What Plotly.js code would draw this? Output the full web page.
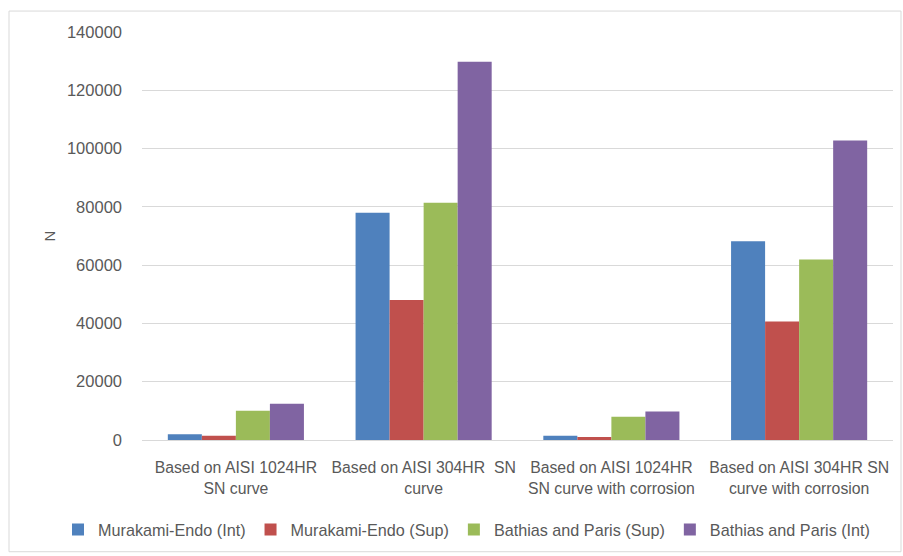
<!DOCTYPE html>
<html>
<head>
<meta charset="utf-8">
<script src="https://cdn.plot.ly/plotly-3.0.1.min.js"></script>
<style>html,body{margin:0;padding:0;background:#fff;}#chart{width:903px;height:556px;}</style>
</head>
<body>
<div id="chart"></div>
<script>
const categories = [
  "Based on AISI 1024HR<br>SN curve",
  "Based on AISI 304HR  SN<br>curve",
  "Based on AISI 1024HR<br>SN curve with corrosion",
  "Based on AISI 304HR SN<br>curve with corrosion"
];
const seriesNames = ["Murakami-Endo (Int)", "Murakami-Endo (Sup)", "Bathias and Paris (Sup)", "Bathias and Paris (Int)"];
const murakamiInt = [2000, 78000, 1500, 68200];
const murakamiSup = [1500, 48000, 1000, 40700];
const bathiasSup = [10000, 81400, 8000, 61900];
const bathiasInt = [12400, 129800, 9800, 102800];
const colors = ["#4F81BD", "#C0504D", "#9BBB59", "#8064A2"];
const yTicks = [0, 20000, 40000, 60000, 80000, 100000, 120000, 140000];

const allValues = [murakamiInt, murakamiSup, bathiasSup, bathiasInt];
const traces = allValues.map((vals, i) => ({
  type: "bar",
  name: seriesNames[i],
  x: categories,
  y: vals,
  marker: {color: colors[i]}
}));

const font = "'Liberation Sans', Arial, sans-serif";
const txt = "#595959";
const layout = {
  width: 903, height: 556,
  margin: {l: 142, r: 10, t: 32, b: 115},
  paper_bgcolor: "#fff", plot_bgcolor: "#fff",
  barmode: "group", bargap: 0.275, bargroupgap: 0,
  font: {family: font, size: 16, color: txt},
  xaxis: {
    showgrid: false, showline: true, linecolor: "#D9D9D9", linewidth: 1,
    ticks: "", ticklabelstandoff: 13, tickfont: {size: 15.8, color: txt}, automargin: false
  },
  yaxis: {
    range: [0, 140000], tickvals: yTicks, ticktext: yTicks.map(String),
    showgrid: true, gridcolor: "#D9D9D9", gridwidth: 1, zeroline: false,
    showline: false, ticks: "", ticklabelstandoff: 19,
    tickfont: {size: 16.5, color: txt},
    title: {text: "N", font: {size: 15, color: txt}, standoff: 7},
    automargin: false
  },
  legend: {
    orientation: "h", x: (58 - 142) / 751, xanchor: "left",
    y: -(530 - 441) / 409, yanchor: "middle",
    font: {size: 16.2, color: txt}, traceorder: "normal",
    itemwidth: 30, bgcolor: "rgba(0,0,0,0)"
  },
  shapes: [{
    type: "rect", xref: "paper", yref: "paper",
    x0: (9 - 142) / 751, x1: (901 - 142) / 751,
    y0: -(553 - 441) / 409, y1: (441 - 11) / 409,
    line: {color: "#D9D9D9", width: 1}, fillcolor: "rgba(0,0,0,0)", layer: "below"
  }]
};
Plotly.newPlot("chart", traces, layout, {displayModeBar: false, staticPlot: true});
</script>
</body>
</html>
